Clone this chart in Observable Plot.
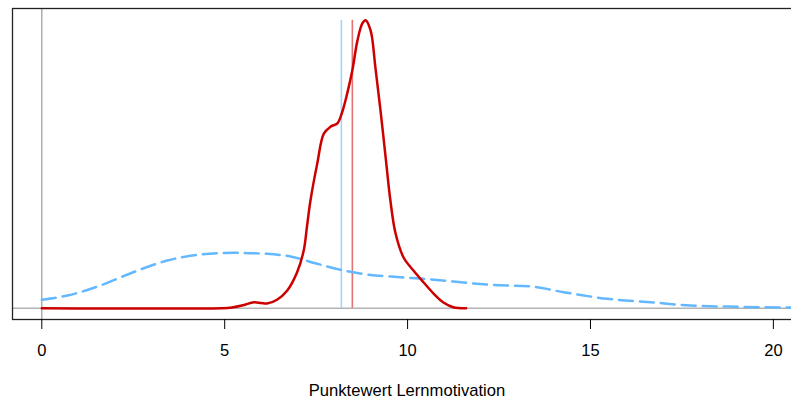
<!DOCTYPE html>
<html>
<head>
<meta charset="utf-8">
<script src="https://cdn.jsdelivr.net/npm/d3@7"></script>
<script src="https://cdn.jsdelivr.net/npm/@observablehq/plot@0.6"></script>
<style>
  html, body { margin: 0; padding: 0; background: #fff; overflow: hidden; width: 791px; height: 398px; }
  #chart { width: 791px; height: 398px; overflow: hidden; }
  #chart svg { display: block; max-width: none !important; width: 801px; height: 398px; }
</style>
</head>
<body>
<div id="chart"></div>
<script>
// Red density curve (x = score, d = density)
const redX = [0, 4.9, 5.2, 5.5, 5.8, 6.0, 6.16, 6.43, 6.71, 6.98, 7.16, 7.25, 7.345, 7.53, 7.71, 7.89, 8.08, 8.2, 8.35, 8.49, 8.63, 8.76, 8.85, 8.99, 9.12, 9.26, 9.4, 9.53, 9.67, 9.89, 10.16, 10.44, 10.71, 10.98, 11.25, 11.6];
const redD = [0, 0, 0.0012, 0.005, 0.0104, 0.0090, 0.0082, 0.0146, 0.0307, 0.0625, 0.100, 0.142, 0.187, 0.251, 0.303, 0.315, 0.321, 0.338, 0.373, 0.413, 0.465, 0.494, 0.5, 0.482, 0.418, 0.343, 0.262, 0.187, 0.130, 0.088, 0.0654, 0.0446, 0.0255, 0.0099, 0.0017, 0];

// Blue dashed density curve
const blueX = [0, 0.7, 1.6, 2.5, 3.43, 4.34, 5.25, 6.16, 6.8, 7.53, 8.25, 8.9, 9.8, 10.44, 12.27, 13.36, 14.27, 15.46, 16.64, 17.73, 19.1, 20.8];
const blueD = [0.0146, 0.022, 0.0394, 0.0625, 0.0828, 0.0932, 0.0962, 0.0944, 0.0898, 0.0771, 0.0655, 0.0585, 0.0538, 0.051, 0.0406, 0.0377, 0.0278, 0.0163, 0.0104, 0.0047, 0.0024, 0.001];

// Mean lines
const meanBlue = 8.19;
const meanRed = 8.49;
const meanTop = 0.5;

const xTicks = [0, 5, 10, 15, 20];
const xLabel = "Punktewert Lernmotivation";

const red = redX.map((x, i) => ({x, d: redD[i]}));
const blue = blueX.map((x, i) => ({x, d: blueD[i]}));
const means = [{x: meanBlue, c: "#8cc8ff"}, {x: meanRed, c: "#dc5050"}];

const chart = Plot.plot({
  width: 801,
  height: 398,
  marginLeft: 12,
  marginRight: 0,
  marginTop: 8,
  marginBottom: 79,
  style: {fontFamily: "Liberation Sans, Arial, sans-serif", fontSize: "16px", color: "#000", background: "#fff"},
  x: {domain: [-0.801, 20.769]},
  y: {domain: [-0.0196, 0.5203], axis: null},
  marks: [
    Plot.ruleY([0], {stroke: "#b3b3b3", strokeWidth: 1.6}),
    Plot.ruleX([0], {stroke: "#999999", strokeWidth: 1.2}),
    Plot.ruleX(means, {x: "x", y1: 0, y2: meanTop, stroke: "c", strokeOpacity: 0.8, strokeWidth: 1.6}),
    Plot.line(blue, {x: "x", y: "d", stroke: "#63B8FF", strokeWidth: 2.5, strokeDasharray: "14,7", curve: "monotone-x", clip: true}),
    Plot.line(red, {x: "x", y: "d", stroke: "#CD0000", strokeWidth: 2.5, curve: "catmull-rom"}),
    Plot.frame({stroke: "#222", strokeWidth: 1.3}),
    Plot.axisX({ticks: xTicks, tickSize: 10, tickPadding: 15, fontSize: 16.5, stroke: "#000", label: null}),
    Plot.text([xLabel], {frameAnchor: "bottom", dy: 76, fontSize: 16.6, fill: "#000"})
  ]
});
chart.style.maxWidth = "none";
document.getElementById("chart").appendChild(chart);
</script>
</body>
</html>
